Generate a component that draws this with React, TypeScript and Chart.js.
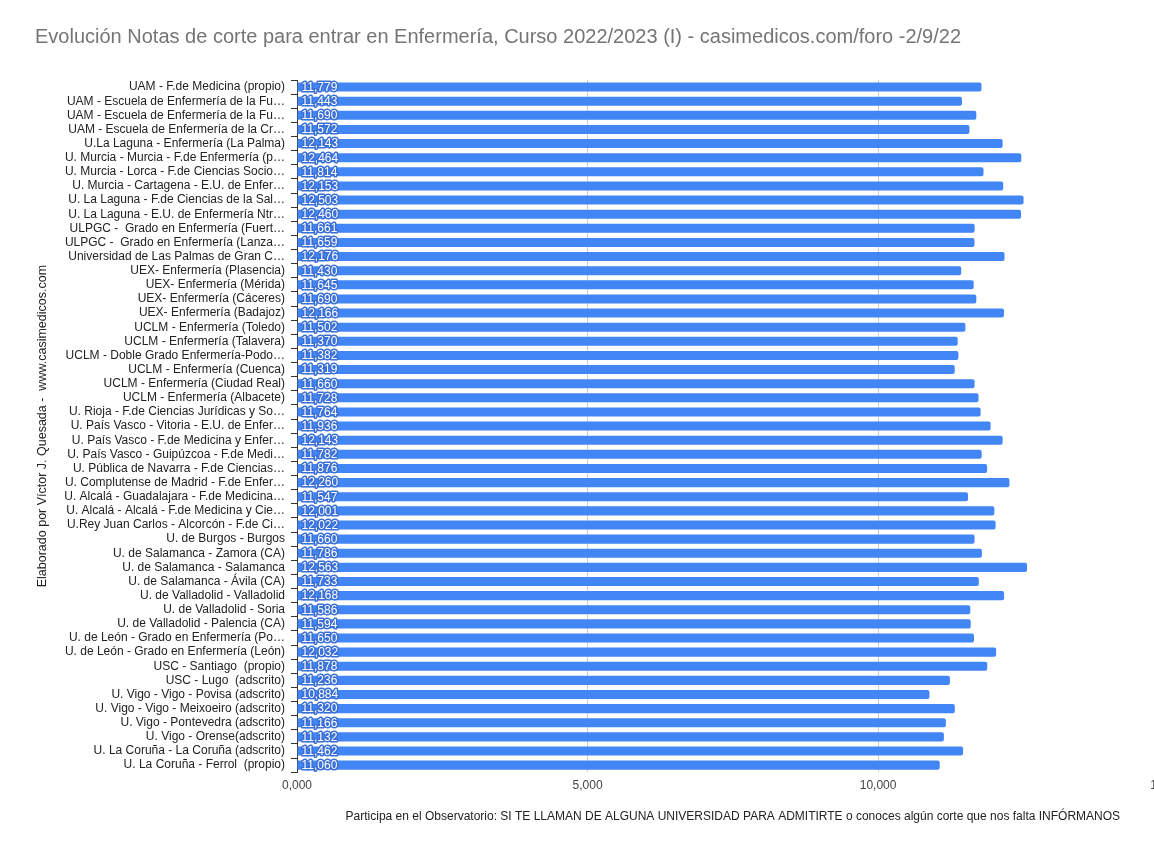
import React, { useEffect, useRef } from "react";
import { Chart, registerables } from "chart.js";

Chart.register(...registerables);

const TITLE =
  "Evolución Notas de corte para entrar en Enfermería, Curso 2022/2023 (I) - casimedicos.com/foro -2/9/22";
const Y_TITLE = "Elaborado por Víctor J. Quesada -  www.casimedicos.com";
const X_TITLE =
  "Participa en el Observatorio: SI TE LLAMAN DE ALGUNA UNIVERSIDAD PARA ADMITIRTE o conoces algún corte que nos falta INFÓRMANOS";

const categories: string[] = [
  "UAM - F.de Medicina (propio)",
  "UAM - Escuela de Enfermería de la Fu…",
  "UAM - Escuela de Enfermería de la Fu…",
  "UAM - Escuela de Enfermería de la Cr…",
  "U.La Laguna - Enfermería (La Palma)",
  "U. Murcia - Murcia - F.de Enfermería (p…",
  "U. Murcia - Lorca - F.de Ciencias Socio…",
  "U. Murcia - Cartagena - E.U. de Enfer…",
  "U. La Laguna - F.de Ciencias de la Sal…",
  "U. La Laguna - E.U. de Enfermería Ntr…",
  "ULPGC -  Grado en Enfermería (Fuert…",
  "ULPGC -  Grado en Enfermería (Lanza…",
  "Universidad de Las Palmas de Gran C…",
  "UEX- Enfermería (Plasencia)",
  "UEX- Enfermería (Mérida)",
  "UEX- Enfermería (Cáceres)",
  "UEX- Enfermería (Badajoz)",
  "UCLM - Enfermería (Toledo)",
  "UCLM - Enfermería (Talavera)",
  "UCLM - Doble Grado Enfermería-Podo…",
  "UCLM - Enfermería (Cuenca)",
  "UCLM - Enfermería (Ciudad Real)",
  "UCLM - Enfermería (Albacete)",
  "U. Rioja - F.de Ciencias Jurídicas y So…",
  "U. País Vasco - Vitoria - E.U. de Enfer…",
  "U. País Vasco - F.de Medicina y Enfer…",
  "U. País Vasco - Guipúzcoa - F.de Medi…",
  "U. Pública de Navarra - F.de Ciencias…",
  "U. Complutense de Madrid - F.de Enfer…",
  "U. Alcalá - Guadalajara - F.de Medicina…",
  "U. Alcalá - Alcalá - F.de Medicina y Cie…",
  "U.Rey Juan Carlos - Alcorcón - F.de Ci…",
  "U. de Burgos - Burgos",
  "U. de Salamanca - Zamora (CA)",
  "U. de Salamanca - Salamanca",
  "U. de Salamanca - Ávila (CA)",
  "U. de Valladolid - Valladolid",
  "U. de Valladolid - Soria",
  "U. de Valladolid - Palencia (CA)",
  "U. de León - Grado en Enfermería (Po…",
  "U. de León - Grado en Enfermería (León)",
  "USC - Santiago  (propio)",
  "USC - Lugo  (adscrito)",
  "U. Vigo - Vigo - Povisa (adscrito)",
  "U. Vigo - Vigo - Meixoeiro (adscrito)",
  "U. Vigo - Pontevedra (adscrito)",
  "U. Vigo - Orense(adscrito)",
  "U. La Coruña - La Coruña (adscrito)",
  "U. La Coruña - Ferrol  (propio)",
];

const notas: number[] = [
  11779, 11443, 11690, 11572, 12143, 12464, 11814, 12153, 12503, 12460,
  11661, 11659, 12176, 11430, 11645, 11690, 12166, 11502, 11370, 11382,
  11319, 11660, 11728, 11764, 11936, 12143, 11782, 11876, 12260, 11547,
  12001, 12022, 11660, 11786, 12563, 11733, 12168, 11586, 11594, 11650,
  12032, 11878, 11236, 10884, 11320, 11166, 11132, 11462, 11060,
];

const xTickValues: number[] = [0, 5000, 10000, 15000];
const xTickLabels: string[] = ["0,000", "5,000", "10,000", "15,000"];

const FONT = '"Liberation Sans", Arial, sans-serif';

const valueLabelPlugin = {
  id: "valueLabels",
  afterDatasetsDraw(chart: any) {
    const ctx = chart.ctx;
    const meta = chart.getDatasetMeta(0);
    ctx.save();
    ctx.font = `12px ${FONT}`;
    ctx.textAlign = "left";
    ctx.textBaseline = "middle";
    ctx.lineJoin = "round";
    meta.data.forEach((el: any, i: number) => {
      const v = notas[i];
      const txt = v.toLocaleString("en-US");
      const x = el.base + 4;
      const y = el.y + 0.5;
      ctx.strokeStyle = "#3a6fd6";
      ctx.lineWidth = 3;
      ctx.strokeText(txt, x, y);
      ctx.fillStyle = "#ffffff";
      ctx.fillText(txt, x, y);
    });
    ctx.restore();
  },
};

export default function App() {
  const ref = useRef<HTMLCanvasElement | null>(null);

  useEffect(() => {
    document.body.style.margin = "0";
    if (!ref.current) return;
    const chart = new Chart(ref.current, {
      type: "bar",
      data: {
        labels: categories,
        datasets: [
          {
            data: notas,
            backgroundColor: "#4285f4",
            borderRadius: 2,
            barPercentage: 0.64,
            categoryPercentage: 1,
          },
        ],
      },
      options: {
        indexAxis: "y",
        animation: false,
        responsive: false,
        devicePixelRatio: 1,
        layout: { padding: { left: 35, right: 0, top: 0, bottom: 0 } },
        plugins: {
          legend: { display: false },
          tooltip: { enabled: false },
          title: {
            display: true,
            text: TITLE,
            align: "start",
            color: "#757575",
            font: { family: FONT, size: 20, weight: "normal" },
            padding: { top: 25, bottom: 31 },
          },
        },
        scales: {
          x: {
            type: "linear",
            min: 0,
            max: 15000,
            afterBuildTicks: (scale: any) => {
              scale.ticks = xTickValues.map((v) => ({ value: v }));
            },
            ticks: {
              color: "#444",
              font: { family: FONT, size: 12 },
              padding: 6,
              maxRotation: 0,
              callback: (value: any) => {
                const idx = xTickValues.indexOf(Number(value));
                return idx >= 0 ? xTickLabels[idx] : "";
              },
            },
            grid: { color: "#cccccc", drawTicks: false, lineWidth: 1 },
            border: { display: false },
            title: {
              display: true,
              text: X_TITLE,
              color: "#222",
              font: { family: FONT, size: 12 },
              padding: { top: 11, bottom: 27 },
            },
          },
          y: {
            type: "category",
            offset: true,
            afterFit: (scale: any) => {
              scale.width = 262;
            },
            ticks: {
              color: "#222",
              font: { family: FONT, size: 12 },
              padding: 6,
              autoSkip: false,
            },
            grid: {
              drawOnChartArea: false,
              drawTicks: true,
              tickLength: 6,
              color: "#333",
            },
            border: { display: true, color: "#333", width: 1 },
            title: {
              display: true,
              text: Y_TITLE,
              color: "#222",
              font: { family: FONT, size: 12.5 },
              padding: { top: 0, bottom: 0 },
            },
          },
        },
      },
      plugins: [valueLabelPlugin],
    } as any);
    return () => chart.destroy();
  }, []);

  return (
    <div style={{ width: 1154, height: 851, overflow: "hidden", position: "relative", background: "#fff" }}>
      <canvas ref={ref} width={1193} height={851} style={{ display: "block" }} />
    </div>
  );
}
